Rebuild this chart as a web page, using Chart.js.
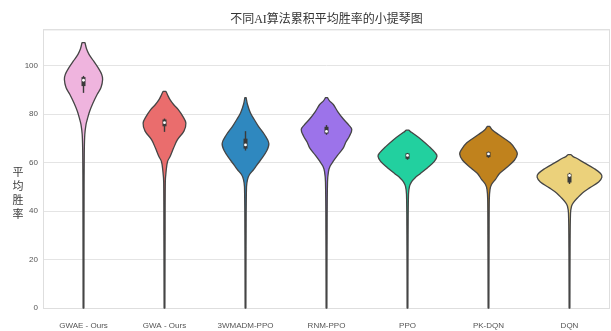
<!DOCTYPE html>
<html>
<head>
<meta charset="utf-8">
<script src="https://cdn.jsdelivr.net/npm/chart.js@4.4.1/dist/chart.umd.min.js"></script>
<style>
  html, body { margin: 0; padding: 0; background: #fff; }
  #wrap { width: 611px; height: 331px; }
</style>
</head>
<body>
<div id="wrap"><canvas id="violin-chart" width="611" height="331"></canvas></div>
<script>
// Algorithms on the x axis
const labels = ['GWAE - Ours', 'GWA - Ours', '3WMADM-PPO', 'RNM-PPO', 'PPO', 'PK-DQN', 'DQN'];

// Box statistics (win rate, %)
const medians     = [94.0, 76.5, 67.3, 72.9, 63.0, 63.6, 54.7];
const q1          = [91.6, 75.0, 65.8, 72.0, 61.6, 62.3, 51.8];
const q3          = [95.3, 77.8, 69.9, 74.8, 63.8, 64.4, 55.4];
const whiskerLow  = [88.8, 72.7, 65.0, 71.5, 61.2, 62.0, 51.2];
const whiskerHigh = [95.8, 78.2, 73.0, 75.5, 64.0, 64.6, 55.8];

// Density profiles: [win rate, relative density], top to bottom
const gwaeKde = [[109.5, 0.046], [107, 0.093], [104.7, 0.17], [102, 0.31], [99.2, 0.45], [96.5, 0.56],
  [94.3, 0.59], [91, 0.54], [88.1, 0.42], [84.5, 0.29], [81.2, 0.19], [78, 0.12], [75.7, 0.077],
  [71.6, 0.04], [65, 0.025], [50, 0.018], [0, 0.012]];
const gwaKde = [[89.4, 0.046], [88, 0.093], [86, 0.17], [84, 0.28], [82, 0.42], [79, 0.57], [76.3, 0.66],
  [73, 0.60], [69.5, 0.40], [66, 0.28], [62.7, 0.18], [60.4, 0.093], [56, 0.046], [52, 0.025],
  [30, 0.018], [0, 0.012]];
const wmadmKde = [[86.8, 0.02], [84, 0.062], [80.6, 0.15], [78, 0.26], [75, 0.40], [71.5, 0.59], [68, 0.72],
  [65, 0.66], [61.3, 0.48], [59, 0.35], [57.1, 0.25], [55, 0.12], [53, 0.062], [50, 0.031],
  [30, 0.018], [0, 0.012]];
const rnmKde = [[86.8, 0.031], [85.5, 0.093], [84, 0.21], [81.2, 0.34], [78, 0.52], [75.5, 0.69], [73.7, 0.78],
  [71, 0.71], [68.5, 0.60], [66.1, 0.52], [63, 0.34], [60.6, 0.21], [58.5, 0.11], [56.4, 0.062],
  [52, 0.031], [30, 0.018], [0, 0.012]];
const ppoKde = [[73.4, 0.046], [72.5, 0.12], [71.9, 0.19], [69.5, 0.43], [66.5, 0.68], [64, 0.86], [62.7, 0.91],
  [60.5, 0.83], [57.9, 0.62], [55.5, 0.40], [53.7, 0.23], [52, 0.12], [50.2, 0.062], [47, 0.031],
  [30, 0.018], [0, 0.012]];
const pkdqnKde = [[75, 0.037], [73.5, 0.12], [71.6, 0.31], [68.2, 0.67], [65.5, 0.83], [63.6, 0.89], [61, 0.80],
  [57.9, 0.55], [55.5, 0.34], [53, 0.21], [51, 0.093], [48.9, 0.046], [45, 0.025], [30, 0.018], [0, 0.012]];
const dqnKde = [[63.3, 0.046], [62.5, 0.11], [62, 0.19], [59.9, 0.46], [57.5, 0.77], [55.5, 0.96], [54, 1.0],
  [52, 0.90], [49.6, 0.62], [47.5, 0.40], [45.5, 0.25], [43.5, 0.12], [42, 0.062], [39, 0.031],
  [25, 0.018], [0, 0.012]];

const densities = [gwaeKde, gwaKde, wmadmKde, rnmKde, ppoKde, pkdqnKde, dqnKde];
const fillColors = ['#efb4de', '#ea6d6d', '#2f88bf', '#9c73ea', '#22d09f', '#c0821d', '#ebd17b'];

const yLabel = ['平', '均', '胜', '率'];

// smooth curve through pts, current point must already be pts[0]
function smoothThrough(ctx, pts) {
  const n = pts.length;
  const tan = i => {
    const a = pts[Math.max(i - 1, 0)], b = pts[Math.min(i + 1, n - 1)];
    const dx = b.x - a.x, dy = b.y - a.y;
    const l = Math.hypot(dx, dy) || 1;
    return {x: dx / l, y: dy / l};
  };
  for (let i = 0; i < n - 1; i++) {
    const p = pts[i], q = pts[i + 1];
    const d = Math.hypot(q.x - p.x, q.y - p.y) / 3;
    const t0 = tan(i), t1 = tan(i + 1);
    ctx.bezierCurveTo(p.x + t0.x * d, p.y + t0.y * d, q.x - t1.x * d, q.y - t1.y * d, q.x, q.y);
  }
}

const violinPlugin = {
  id: 'violins',
  beforeDatasetsDraw(chart) {
    const {ctx, chartArea: area, scales: {x, y}} = chart;

    // light frame around the plot area
    ctx.save();
    ctx.strokeStyle = '#dedede';
    ctx.lineWidth = 1;
    ctx.strokeRect(area.left + 0.5, area.top + 0.5, area.right - area.left - 1, area.bottom - area.top);
    ctx.restore();

    const half = 0.4 * (x.getPixelForValue(1) - x.getPixelForValue(0));

    densities.forEach((kde, i) => {
      const cx = x.getPixelForValue(i);
      const right = kde.map(([v, d]) => ({x: cx + d * half, y: y.getPixelForValue(v)}));
      const left = kde.map(([v, d]) => ({x: cx - d * half, y: y.getPixelForValue(v)})).reverse();

      ctx.save();
      ctx.beginPath();
      ctx.moveTo(left[left.length - 1].x, left[left.length - 1].y);
      ctx.lineTo(right[0].x, right[0].y);
      smoothThrough(ctx, right);
      ctx.lineTo(left[0].x, left[0].y);
      smoothThrough(ctx, left);
      ctx.closePath();
      ctx.fillStyle = fillColors[i];
      ctx.fill();
      ctx.strokeStyle = '#454545';
      ctx.lineWidth = 1.3;
      ctx.lineJoin = 'round';
      ctx.stroke();

      // inner box: whiskers, quartile box, median dot
      ctx.strokeStyle = '#3a3a3a';
      ctx.lineWidth = 1.4;
      ctx.beginPath();
      ctx.moveTo(cx, y.getPixelForValue(whiskerHigh[i]));
      ctx.lineTo(cx, y.getPixelForValue(whiskerLow[i]));
      ctx.stroke();
      ctx.fillStyle = '#3a3a3a';
      const top = y.getPixelForValue(q3[i]);
      const bottom = y.getPixelForValue(q1[i]);
      ctx.fillRect(cx - 2, top, 4, bottom - top);
      ctx.fillStyle = '#ffffff';
      ctx.beginPath();
      ctx.arc(cx, y.getPixelForValue(medians[i]), 1.4, 0, Math.PI * 2);
      ctx.fill();
      ctx.restore();
    });
  },
  afterDraw(chart) {
    // upright stacked y axis title
    const {ctx, chartArea: area} = chart;
    const mid = (area.top + area.bottom) / 2;
    ctx.save();
    ctx.fillStyle = '#3a3a3a';
    ctx.font = '11px "Noto Sans CJK SC", sans-serif';
    ctx.textAlign = 'center';
    ctx.textBaseline = 'middle';
    yLabel.forEach((ch, k) => ctx.fillText(ch, 18, mid + 3 + k * 14.2));
    ctx.restore();
  }
};

const ctx = document.getElementById('violin-chart').getContext('2d');

const chart = new Chart(ctx, {
  type: 'bar',
  data: {
    labels: labels,
    datasets: [{
      label: '平均胜率',
      data: medians,
      backgroundColor: 'rgba(0,0,0,0)',
      borderWidth: 0
    }]
  },
  options: {
    responsive: false,
    animation: false,
    layout: { padding: { left: 0, right: 1, top: 0, bottom: 0 } },
    plugins: {
      legend: { display: false },
      tooltip: { enabled: false },
      title: {
        display: true,
        fullSize: false,
        text: '不同AI算法累积平均胜率的小提琴图',
        color: '#333',
        font: { family: '"Liberation Serif", "Noto Sans CJK SC", serif', size: 12, weight: 'normal' },
        padding: { top: 13, bottom: 2 }
      }
    },
    scales: {
      x: {
        offset: true,
        grid: { display: false, drawTicks: false },
        border: { display: false },
        ticks: {
          color: '#555',
          font: { family: '"Liberation Sans", Arial, sans-serif', size: 8 },
          padding: 13,
          maxRotation: 0,
          autoSkip: false
        },
        afterFit: s => { s.height = 23; }
      },
      y: {
        min: 0,
        max: 115,
        grid: { color: '#e4e4e4', lineWidth: 1, drawTicks: false },
        border: { display: false },
        ticks: {
          stepSize: 20,
          color: '#555',
          font: { family: '"Liberation Sans", Arial, sans-serif', size: 8 },
          padding: 5,
          callback: v => (v % 20 === 0 ? v : '')
        },
        afterFit: s => { s.width = 43; }
      }
    }
  },
  plugins: [violinPlugin]
});
</script>
</body>
</html>
